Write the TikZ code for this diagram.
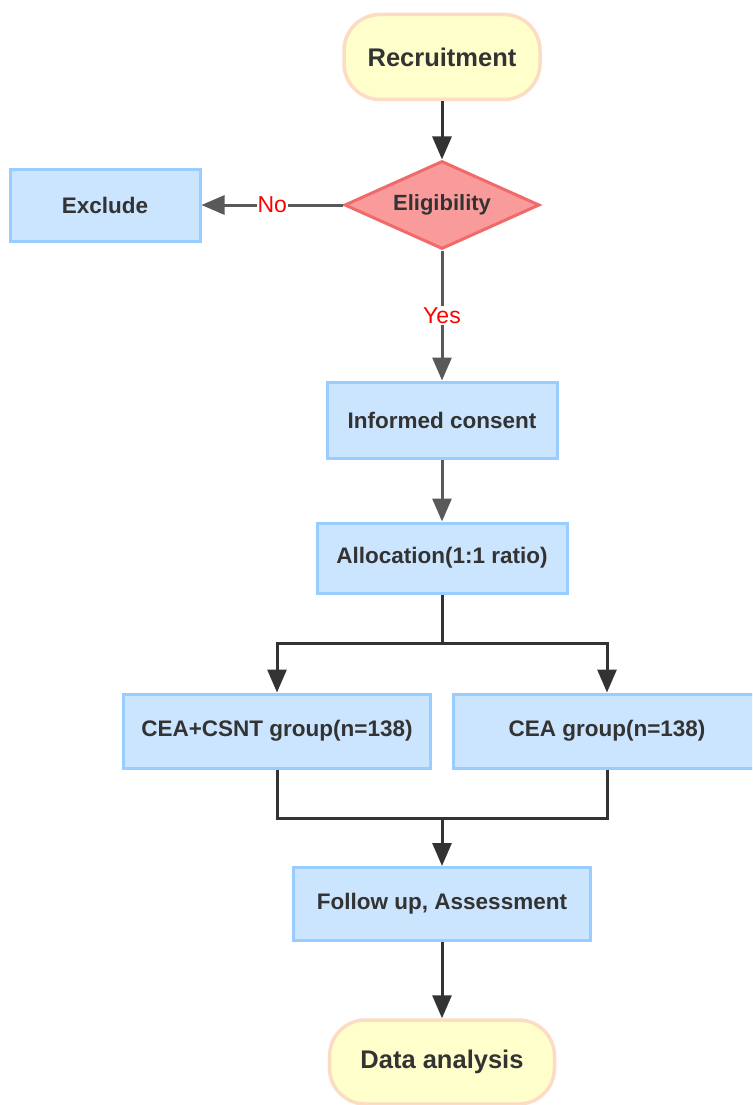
\documentclass[tikz,border=0pt]{standalone}
\usepackage{fontspec}
\setmainfont{Liberation Sans}
\usetikzlibrary{shapes.geometric,arrows.meta}
\definecolor{boxfill}{HTML}{CCE5FF}
\definecolor{boxline}{HTML}{99CCFF}
\definecolor{termfill}{HTML}{FFFFCC}
\definecolor{termline}{HTML}{FDDCC4}
\definecolor{decfill}{HTML}{F99B9B}
\definecolor{decline}{HTML}{F06A6A}
\definecolor{txt}{HTML}{333333}
\definecolor{darkline}{HTML}{333333}
\definecolor{grayline}{HTML}{595959}
\tikzset{
  procbox/.style={rectangle, draw=boxline, fill=boxfill, line width=3pt, inner sep=0pt, text=txt, font=\fontsize{22.5}{26}\selectfont\bfseries},
  termbox/.style={rectangle, rounded corners=36pt, draw=termline, fill=termfill, line width=3.5pt, inner sep=0pt, text=txt, font=\fontsize{25.5}{30}\selectfont\bfseries},
  decbox/.style={diamond, aspect=2.2, draw=decline, fill=decfill, line width=3pt, inner sep=0pt, text=txt, font=\fontsize{22}{26}\selectfont\bfseries},
  darkarrow/.style={draw=darkline, line width=3pt, -{Triangle[length=23pt,width=19pt]}},
  grayarrow/.style={draw=grayline, line width=3pt, -{Triangle[length=23pt,width=19pt]}},
  darkseg/.style={draw=darkline, line width=3pt},
  edgelabel/.style={fill=white, text=red, inner sep=1pt, font=\fontsize{23}{27}\selectfont}
}
\begin{document}
\begin{tikzpicture}[x=1pt,y=-1pt]
\useasboundingbox (0,0) rectangle (752,1105);
\fill[white] (0,0) rectangle (752,1105);
\clip (0,0) rectangle (752,1105);
\node[termbox, minimum width=196pt, minimum height=85pt] (rec) at (442,57) {Recruitment};
\node[decbox, minimum width=195pt, minimum height=88pt] (elig) at (442,205) {Eligibility};
\node[procbox, minimum width=190pt, minimum height=72pt] (excl) at (105,205) {Exclude};
\node[procbox, minimum width=230pt, minimum height=76pt] (cons) at (442,420) {Informed consent};
\node[procbox, minimum width=250pt, minimum height=70pt] (alloc) at (442,558) {Allocation(1:1 ratio)};
\node[procbox, minimum width=307pt, minimum height=74pt] (g1) at (277,731) {CEA+CSNT group(n=138)};
\node[procbox, minimum width=307pt, minimum height=74pt] (g2) at (607,731) {CEA group(n=138)};
\node[procbox, minimum width=297pt, minimum height=73pt] (fu) at (442,904) {Follow up, Assessment};
\node[termbox, minimum width=225pt, minimum height=84pt] (da) at (442,1062) {Data analysis};
\coordinate (split) at (442,643);
\coordinate (merge) at (442,818);
\draw[darkarrow] (rec.south) -- (elig.north);
\draw[grayarrow] (elig.west) -- node[edgelabel] (nolab) {No} (excl.east);
\draw[grayarrow] (elig.south) -- node[edgelabel] (yeslab) {Yes} (cons.north);
\draw[grayarrow] (cons.south) -- (alloc.north);
\draw[darkseg] (alloc.south) -- (split);
\draw[darkarrow] (split) -| (g1.north);
\draw[darkarrow] (split) -| (g2.north);
\draw[darkseg] (g1.south) |- (merge);
\draw[darkseg] (g2.south) |- (merge);
\draw[darkarrow] (merge) -- (fu.north);
\draw[darkarrow] (fu.south) -- (da.north);
\end{tikzpicture}
\end{document}
